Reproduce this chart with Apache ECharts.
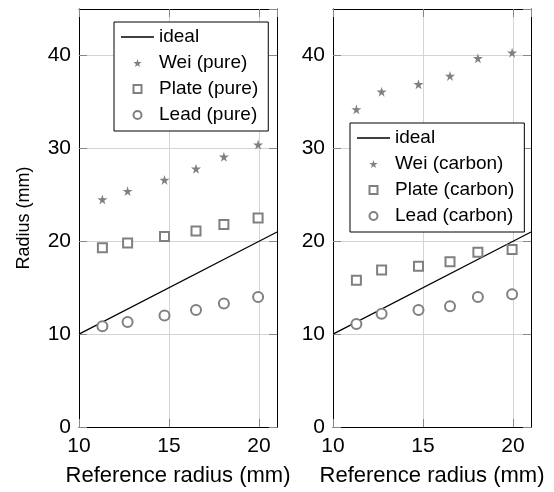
<!DOCTYPE html>
<html>
<head>
<meta charset="utf-8">
<script src="https://cdn.jsdelivr.net/npm/echarts@6/dist/echarts.min.js"></script>
<style>
  html, body { margin: 0; padding: 0; background: #fff; }
  #chart { width: 554px; height: 492px; }
</style>
</head>
<body>
<div id="chart"></div>
<script>
// reference radius (mm) for each measurement
const refRadius = [11.3, 12.7, 14.75, 16.5, 18.05, 19.95]
const idealX = [10, 21]

// pure samples
const weiPure = [24.5, 25.4, 26.6, 27.8, 29.1, 30.4]
const platePure = [19.3, 19.8, 20.5, 21.1, 21.8, 22.5]
const leadPure = [10.85, 11.3, 12.0, 12.6, 13.3, 14.0]

// carbon samples
const weiCarbon = [34.2, 36.1, 36.9, 37.8, 39.7, 40.3]
const plateCarbon = [15.8, 16.9, 17.3, 17.8, 18.8, 19.1]
const leadCarbon = [11.1, 12.2, 12.6, 13.0, 14.0, 14.3]

const FONT = 'Liberation Sans'
const GRAY = '#808080'
const STAR = 'path://M50,0 L61,35 L98,35 L68,57 L79,91 L50,70 L21,91 L32,57 L2,35 L39,35 Z'
const SQUARE = 'path://M0,0 L10,0 L10,10 L0,10 Z'
// legend icon for the ideal line, keeps its aspect so it stays thin
const DASH = 'path://M0,0 L66,0 L66,3 L0,3 Z'

const pairs = (ys) => refRadius.map((x, i) => [x, ys[i]])

function xAxisFor(gridIndex, top) {
  return {
    gridIndex,
    type: 'value',
    position: top ? 'top' : 'bottom',
    min: 10,
    max: 21,
    interval: 5,
    name: top ? '' : 'Reference radius (mm)',
    nameLocation: 'middle',
    nameGap: 38,
    nameTextStyle: { fontFamily: FONT, fontSize: 22, color: '#000' },
    axisLine: { show: true, onZero: false, lineStyle: { color: '#000', width: 1 } },
    axisTick: { show: true, inside: true, length: 8, lineStyle: { color: '#888' } },
    axisLabel: {
      show: !top,
      showMaxLabel: false,
      margin: 9,
      fontFamily: FONT,
      fontSize: 21,
      color: '#000',
    },
    splitLine: { show: !top, lineStyle: { color: '#d4d4d4', width: 1 } },
  }
}

function yAxisFor(gridIndex, right, withName) {
  return {
    gridIndex,
    type: 'value',
    position: right ? 'right' : 'left',
    min: 0,
    max: 45,
    interval: 10,
    name: withName ? 'Radius (mm)' : '',
    nameLocation: 'middle',
    nameGap: 46,
    nameTextStyle: { fontFamily: FONT, fontSize: 18, color: '#000' },
    axisLine: { show: true, onZero: false, lineStyle: { color: '#000', width: 1 } },
    axisTick: { show: true, inside: true, length: 8, lineStyle: { color: '#888' } },
    axisLabel: {
      show: !right,
      showMaxLabel: false,
      margin: 8,
      fontFamily: FONT,
      fontSize: 21,
      color: '#000',
    },
    splitLine: { show: !right, lineStyle: { color: '#d4d4d4', width: 1 } },
  }
}

function seriesFor(idx, tag, wei, plate, lead) {
  const base = { xAxisIndex: idx * 2, yAxisIndex: idx * 2 }
  return [
    {
      ...base,
      name: 'ideal',
      type: 'line',
      symbol: 'none',
      data: idealX.map((x) => [x, x]),
      lineStyle: { color: '#000', width: 1.2 },
      itemStyle: { color: '#000' },
      z: 2,
    },
    {
      ...base,
      name: 'Wei (' + tag + ')',
      type: 'scatter',
      symbol: STAR,
      symbolSize: 10,
      data: pairs(wei),
      itemStyle: { color: GRAY, opacity: 1 },
      z: 3,
    },
    {
      ...base,
      name: 'Plate (' + tag + ')',
      type: 'scatter',
      symbol: SQUARE,
      symbolSize: 9,
      data: pairs(plate),
      itemStyle: { color: '#fff', borderColor: GRAY, borderWidth: 2, opacity: 1 },
      z: 3,
    },
    {
      ...base,
      name: 'Lead (' + tag + ')',
      type: 'scatter',
      symbol: 'circle',
      symbolSize: 10,
      data: pairs(lead),
      itemStyle: { color: '#fff', borderColor: GRAY, borderWidth: 2, opacity: 1 },
      z: 3,
    },
  ]
}

function legendFor(tag, left, top) {
  return {
    orient: 'vertical',
    left,
    top,
    data: [
      { name: 'ideal', icon: DASH, itemStyle: { color: '#000', borderWidth: 0 } },
      { name: 'Wei (' + tag + ')', icon: STAR },
      { name: 'Plate (' + tag + ')', icon: SQUARE },
      { name: 'Lead (' + tag + ')', icon: 'circle' },
    ],
    itemWidth: 33,
    itemHeight: 8,
    itemGap: 6,
    padding: [5, 10, 6, 7],
    backgroundColor: '#fff',
    borderColor: '#000',
    borderWidth: 1,
    borderRadius: 0,
    selectedMode: false,
    textStyle: { fontFamily: FONT, fontSize: 19, color: '#000', lineHeight: 20 },
  }
}

const chart = echarts.init(document.getElementById('chart'))
chart.setOption({
  animation: false,
  backgroundColor: '#fff',
  grid: [
    { left: 79, top: 9, width: 198, height: 423 },
    { left: 333, top: 9, width: 198, height: 423 },
  ],
  xAxis: [xAxisFor(0, false), xAxisFor(0, true), xAxisFor(1, false), xAxisFor(1, true)],
  yAxis: [yAxisFor(0, false, true), yAxisFor(0, true, false), yAxisFor(1, false, false), yAxisFor(1, true, false)],
  legend: [legendFor('pure', 114, 22), legendFor('carbon', 350, 123)],
  series: [
    ...seriesFor(0, 'pure', weiPure, platePure, leadPure),
    ...seriesFor(1, 'carbon', weiCarbon, plateCarbon, leadCarbon),
  ],
})
</script>
</body>
</html>
